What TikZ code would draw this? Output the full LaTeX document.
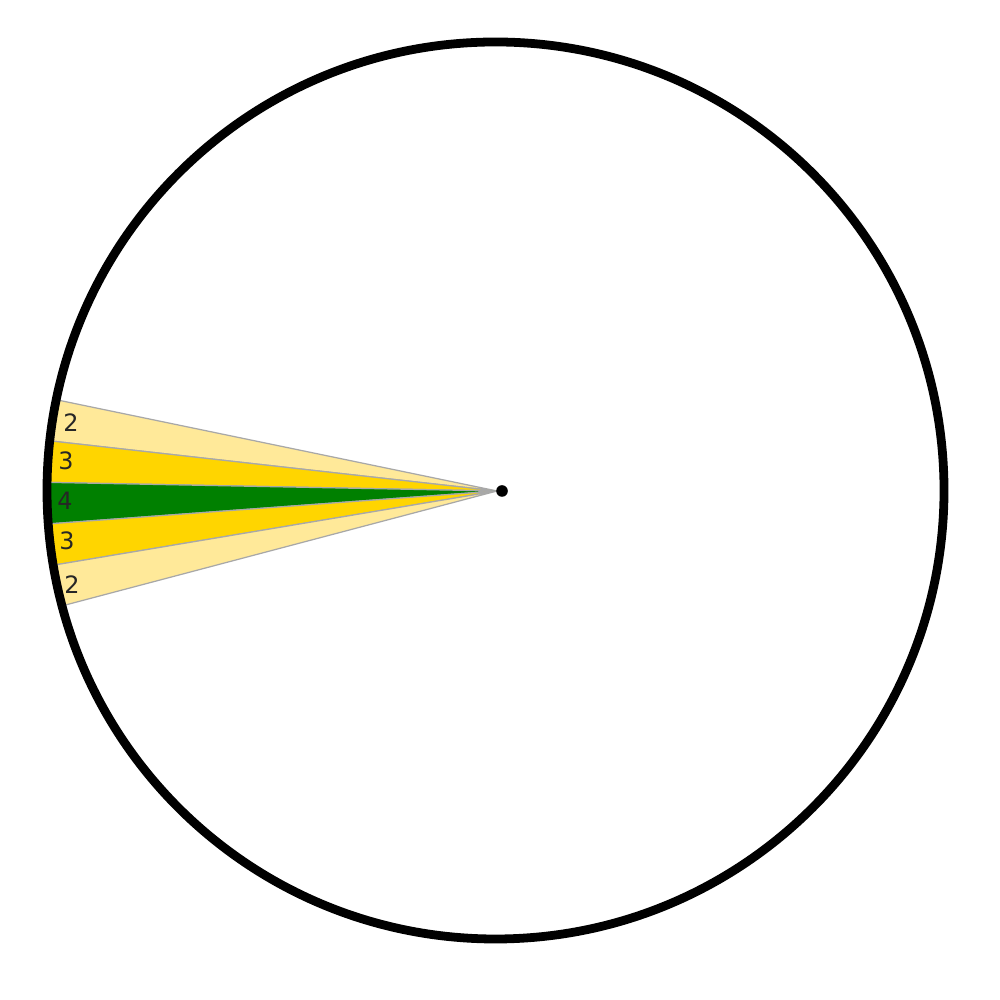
\documentclass[tikz,border=0pt]{standalone}
\usepackage{fontspec}
\setmainfont{DejaVu Sans}
\definecolor{lightgold}{HTML}{FFE999}
\definecolor{gold}{HTML}{FFD500}
\definecolor{darkgreen}{HTML}{008000}
\definecolor{edgegray}{HTML}{A8A8A8}
\tikzset{
  band/.style={draw=edgegray, line width=0.35pt},
  lbl/.style={font=\fontsize{6.8}{8}\selectfont, inner sep=0pt, text=black!85},
}
\begin{document}
\begin{tikzpicture}
\useasboundingbox (0,0) rectangle (10,10);
\fill[white] (0,0) rectangle (10,10);
\coordinate (apex) at (4.97,5.09);
\def\R{4.48}
% bands (angles in degrees)
\fill[lightgold, band] (apex) -- ++(168.3:\R) arc[start angle=168.3, end angle=173.6, radius=\R] -- cycle;
\fill[gold, band] (apex) -- ++(173.6:\R) arc[start angle=173.6, end angle=178.9, radius=\R] -- cycle;
\fill[darkgreen, band] (apex) -- ++(178.9:\R) arc[start angle=178.9, end angle=184.2, radius=\R] -- cycle;
\fill[gold, band] (apex) -- ++(184.2:\R) arc[start angle=184.2, end angle=189.5, radius=\R] -- cycle;
\fill[lightgold, band] (apex) -- ++(189.5:\R) arc[start angle=189.5, end angle=194.8, radius=\R] -- cycle;
% labels
\node[lbl] (l2a) at (0.71,5.77) {2};
\node[lbl] (l3a) at (0.66,5.39) {3};
\node[lbl] (l4) at (0.65,4.99) {4};
\node[lbl] (l3b) at (0.67,4.59) {3};
\node[lbl] (l2b) at (0.72,4.15) {2};
% circle
\node[circle, draw=black, line width=2.5pt, minimum size=8.97cm, inner sep=0pt] (rim) at (4.955,5.095) {};
\fill[black] (5.02,5.09) circle (0.058);
\end{tikzpicture}
\end{document}
